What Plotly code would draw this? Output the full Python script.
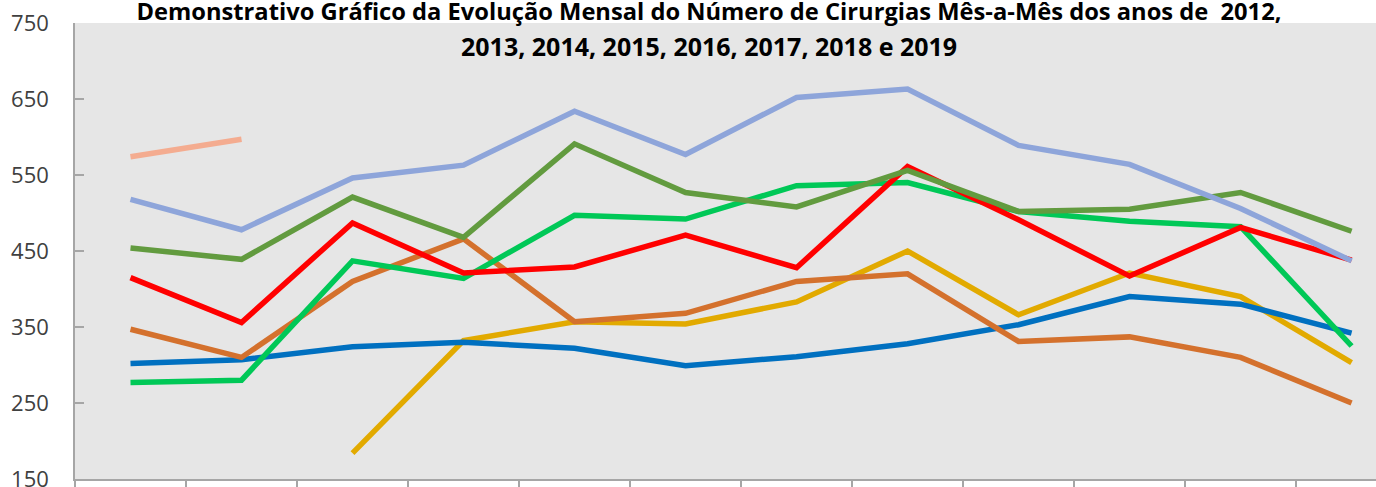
import plotly.graph_objects as go

# meses (sem rótulos no eixo do original)
months = ["Jan", "Fev", "Mar", "Abr", "Mai", "Jun", "Jul", "Ago", "Set", "Out", "Nov", "Dez"]

# cirurgias por mês
y2012 = [None, None, 184, 332, 357, 354, 383, 450, 366, 421, 390, 303]
y2013 = [302, 307, 324, 330, 322, 299, 311, 328, 353, 390, 380, 342]
y2014 = [347, 310, 410, 466, 357, 368, 410, 420, 331, 337, 310, 250]
y2015 = [277, 280, 437, 414, 497, 492, 536, 540, 502, 489, 482, 325]
y2016 = [415, 356, 487, 421, 429, 471, 428, 561, 491, 417, 481, 438]
y2017 = [454, 439, 521, 468, 591, 527, 508, 556, 502, 505, 527, 476]
y2018 = [518, 478, 546, 563, 634, 577, 652, 663, 589, 564, 506, 437]
y2019 = [574, 597]

series = [
    ("2012", y2012, "#E2AA00"),
    ("2013", y2013, "#0070C0"),
    ("2014", y2014, "#D4712D"),
    ("2015", y2015, "#00C857"),
    ("2016", y2016, "#FF0000"),
    ("2017", y2017, "#629B3F"),
    ("2018", y2018, "#8EA5DA"),
    ("2019", y2019, "#F4AC90"),
]

yticks = [150, 250, 350, 450, 550, 650, 750]

fig = go.Figure()
for name, vals, color in series:
    fig.add_trace(go.Scatter(
        x=list(range(len(vals))), y=vals, name=name, mode="lines",
        line=dict(color=color, width=5.5),
    ))

fig.update_layout(
    width=1376, height=487,
    margin=dict(l=75, r=0, t=23, b=8),
    paper_bgcolor="white",
    plot_bgcolor="#E6E6E6",
    showlegend=False,
    font=dict(family="Open Sans", color="#404040"),
    title=dict(
        text="<b>Demonstrativo Gráfico da Evolução Mensal do Número de Cirurgias Mês-a-Mês dos anos de  2012,</b>",
        font=dict(size=23.7, color="black"),
        x=709 / 1376, xanchor="center", y=1 - 12 / 487, yanchor="middle",
    ),
    annotations=[dict(
        text="<b>2013, 2014, 2015, 2016, 2017, 2018 e 2019</b>",
        xref="paper", yref="paper", x=(709 - 75) / (1376 - 75), y=(479 - 46) / 456,
        xanchor="center", yanchor="middle", showarrow=False,
        font=dict(size=25, color="black"),
    )],
)

fig.update_xaxes(
    range=[-0.5, 11.22], showgrid=False, zeroline=False, automargin=False,
    showline=True, linecolor="#A6A6A6", linewidth=1.5,
    tickvals=[i + 0.5 for i in range(-1, 12)], ticktext=[""] * 13,
    ticks="outside", ticklen=9, tickcolor="#A6A6A6", tickwidth=1.5,
)
fig.update_yaxes(
    range=[150, 750], tickvals=yticks, showgrid=False, zeroline=False, automargin=False,
    showline=True, linecolor="#A6A6A6", linewidth=1.5,
    ticks="inside", ticklen=9, tickcolor="#A6A6A6", tickwidth=1.5,
    tickfont=dict(size=22, color="#404040"), ticklabelstandoff=20,
    ticklabeloverflow="allow",
)

# remove a margem padrão do <body> para o gráfico ocupar a janela inteira
fig.write_html("out.html", config={"displayModeBar": False},
               post_script="document.body.style.margin='0';")
